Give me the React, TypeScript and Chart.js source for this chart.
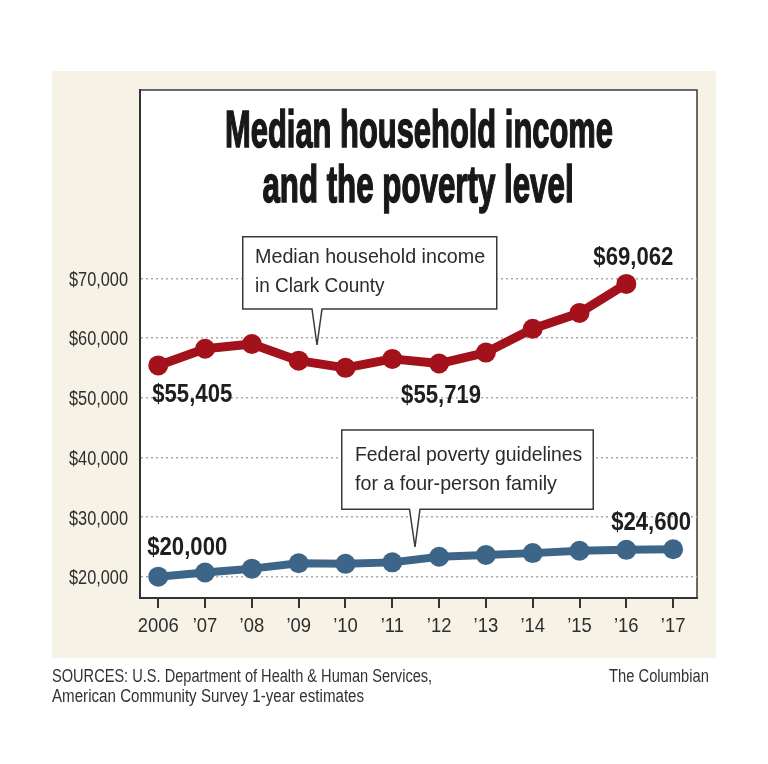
import React, { useEffect, useLayoutEffect, useRef, useState } from 'react';
import { Chart, registerables } from 'chart.js';

Chart.register(...registerables);

// ---------- data ----------
const years = [2006, 2007, 2008, 2009, 2010, 2011, 2012, 2013, 2014, 2015, 2016, 2017];
const yearLabels = ['2006', '’07', '’08', '’09', '’10', '’11', '’12', '’13', '’14', '’15', '’16', '’17'];
const medianIncome = [55405, 58200, 59000, 56200, 55000, 56500, 55719, 57550, 61550, 64200, 69062];
const povertyGuideline = [20000, 20700, 21350, 22250, 22150, 22400, 23350, 23650, 23950, 24350, 24500, 24600];
const yTickValues = [20000, 30000, 40000, 50000, 60000, 70000];
const labelledIncome = [0, 6, 10];
const labelledPoverty = [0, 11];

const titleLines = ['Median household income', 'and the poverty level'];
const incomeCallout = ['Median household income', 'in Clark County'];
const povertyCallout = ['Federal poverty guidelines', 'for a four-person family'];
const sourceLines = ['SOURCES: U.S. Department of Health & Human Services,', 'American Community Survey 1-year estimates'];
const credit = 'The Columbian';

// ---------- styles ----------
const RED = '#a3111b';
const BLUE = '#3d6587';
const BEIGE = '#f6f3e6';
const INK = '#2b2b2b';
const FONT = '"Liberation Sans Narrow", "Liberation Sans", Arial, sans-serif';

const fmt = (v: number) => '$' + v.toLocaleString('en-US');
const yearLabel = (v: number) => yearLabels[years.indexOf(v)] ?? '';

// label placement relative to the point (layout only)
const incomeLabelPlace: Record<number, { dx: number; dy: number; align: CanvasTextAlign }> = {
  0: { dx: -6, dy: 37, align: 'left' },
  6: { dx: 2, dy: 39, align: 'center' },
  10: { dx: 7, dy: -19, align: 'center' },
};
const povertyLabelPlace: Record<number, { dx: number; dy: number; align: CanvasTextAlign }> = {
  0: { dx: -11, dy: -22, align: 'left' },
  11: { dx: 18, dy: -19, align: 'right' },
};

function FitLine(props: {
  text: string; x: number; baseline: number; align: 'left' | 'center' | 'right';
  width: number; size: number; weight?: number; color?: string; stroke?: string;
}) {
  const { text, x, baseline, align, width, size, weight = 400, color = INK, stroke } = props;
  const ref = useRef<HTMLSpanElement>(null);
  const [sx, setSx] = useState(1);
  useLayoutEffect(() => {
    const measure = () => {
      const w = ref.current ? ref.current.offsetWidth : 0;
      if (w > 0) setSx(width / w);
    };
    measure();
    if ((document as any).fonts && (document as any).fonts.ready) {
      (document as any).fonts.ready.then(measure);
    }
  }, [text, width, size]);
  const W = 3000;
  const left = align === 'left' ? x : align === 'center' ? x - W / 2 : x - W;
  return (
    <div
      style={{
        position: 'absolute', left, top: baseline - 0.846 * size, width: W,
        textAlign: align, fontSize: size, lineHeight: size + 'px', fontFamily: FONT,
        fontWeight: weight, color, whiteSpace: 'nowrap',
        transform: `scaleX(${sx})`,
        transformOrigin: align === 'left' ? '0 0' : align === 'center' ? '50% 0' : '100% 0',
        WebkitTextStroke: stroke,
        pointerEvents: 'none',
      } as React.CSSProperties}
    >
      <span ref={ref}>{text}</span>
    </div>
  );
}

// draws text horizontally condensed by sx
function condensedText(ctx: CanvasRenderingContext2D, text: string, x: number, y: number, sx: number, align: CanvasTextAlign) {
  const w = ctx.measureText(text).width * sx;
  let left = x;
  if (align === 'center') left -= w / 2;
  else if (align === 'right') left -= w;
  ctx.save();
  ctx.translate(left, y);
  ctx.scale(sx, 1);
  ctx.textAlign = 'left';
  ctx.fillText(text, 0, 0);
  ctx.restore();
}

export default function App() {
  const canvasRef = useRef<HTMLCanvasElement>(null);

  useEffect(() => {
    const canvas = canvasRef.current!;
    const boxPlugin = {
      id: 'box',
      beforeDraw(chart: any) {
        const { ctx, chartArea: a } = chart;
        ctx.save();
        ctx.fillStyle = '#ffffff';
        ctx.fillRect(a.left, a.top, a.right - a.left, a.bottom - a.top);
        ctx.strokeStyle = '#3a3a3a';
        ctx.lineWidth = 1.5;
        ctx.beginPath();
        ctx.moveTo(a.left, a.top);
        ctx.lineTo(a.right, a.top);
        ctx.lineTo(a.right, a.bottom);
        ctx.stroke();
        ctx.restore();
      },
    };
    // axis tick labels, condensed, placed from the scales' own ticks
    const tickLabelPlugin = {
      id: 'tickLabels',
      afterDraw(chart: any) {
        const ctx = chart.ctx as CanvasRenderingContext2D;
        const xs = chart.scales.x;
        const ys = chart.scales.y;
        ctx.save();
        ctx.fillStyle = '#2e2e2e';
        ctx.textBaseline = 'alphabetic';
        ctx.font = `20px ${FONT}`;
        const syx = 59 / ctx.measureText('$70,000').width;
        ys.ticks.forEach((t: any) => {
          const y = ys.getPixelForValue(t.value);
          condensedText(ctx, fmt(t.value), ys.right - 12, y + 7.5, syx, 'right');
        });
        ctx.font = `21px ${FONT}`;
        const sxx = 41 / ctx.measureText('2006').width;
        xs.ticks.forEach((t: any) => {
          const x = xs.getPixelForValue(t.value);
          condensedText(ctx, yearLabel(t.value), x, xs.top + 34, sxx, 'center');
        });
        ctx.restore();
      },
    };
    const labelPlugin = {
      id: 'valueLabels',
      afterDatasetsDraw(chart: any) {
        const ctx = chart.ctx as CanvasRenderingContext2D;
        ctx.save();
        ctx.font = `bold 25px ${FONT}`;
        const sx = 80 / ctx.measureText('$55,405').width;
        ctx.fillStyle = '#1e1e1e';
        ctx.textBaseline = 'alphabetic';
        const draw = (dsIndex: number, idx: number, place: { dx: number; dy: number; align: CanvasTextAlign }) => {
          const el = chart.getDatasetMeta(dsIndex).data[idx];
          const value = chart.data.datasets[dsIndex].data[idx].y as number;
          condensedText(ctx, fmt(value), el.x + place.dx, el.y + place.dy, sx, place.align);
        };
        labelledIncome.forEach((i) => draw(0, i, incomeLabelPlace[i]));
        labelledPoverty.forEach((i) => draw(1, i, povertyLabelPlace[i]));
        ctx.restore();
      },
    };

    const chart = new Chart(canvas, {
      type: 'line',
      data: {
        datasets: [
          {
            label: 'Median household income in Clark County',
            data: medianIncome.map((v, i) => ({ x: years[i], y: v })),
            borderColor: RED,
            backgroundColor: RED,
            pointBackgroundColor: RED,
            pointBorderColor: RED,
            borderWidth: 9,
            pointRadius: 10,
            pointBorderWidth: 0,
            tension: 0,
            borderJoinStyle: 'round',
            borderCapStyle: 'round',
          },
          {
            label: 'Federal poverty guidelines for a four-person family',
            data: povertyGuideline.map((v, i) => ({ x: years[i], y: v })),
            borderColor: BLUE,
            backgroundColor: BLUE,
            pointBackgroundColor: BLUE,
            pointBorderColor: BLUE,
            borderWidth: 8,
            pointRadius: 10,
            pointBorderWidth: 0,
            tension: 0,
            borderJoinStyle: 'round',
            borderCapStyle: 'round',
          },
        ],
      },
      options: {
        responsive: false,
        animation: false,
        devicePixelRatio: 1,
        layout: { padding: { left: 52, right: 71, top: 90, bottom: 116 } },
        plugins: {
          legend: { display: false },
          tooltip: { enabled: false },
          title: { display: false },
        },
        scales: {
          x: {
            type: 'linear',
            min: 2005.61,
            max: 2017.51,
            afterBuildTicks: (s: any) => { s.ticks = years.map((v) => ({ value: v })); },
            afterFit: (s: any) => { s.height = 50; },
            grid: { drawOnChartArea: false, drawTicks: true, tickLength: 10, color: '#333', lineWidth: 2 },
            border: { display: true, color: '#333', width: 2 },
            ticks: { display: false, autoSkip: false, callback: (v: any) => yearLabel(Number(v)) },
          },
          y: {
            type: 'linear',
            min: 16430,
            max: 101557,
            afterBuildTicks: (s: any) => { s.ticks = yTickValues.map((v) => ({ value: v })); },
            afterFit: (s: any) => { s.width = 88; },
            grid: { drawTicks: false, color: '#a9a9a9', lineWidth: 1.5 },
            border: { display: true, color: '#333', width: 2, dash: [2, 3] },
            ticks: { display: false, callback: (v: any) => fmt(Number(v)) },
          },
        },
      } as any,
      plugins: [boxPlugin, labelPlugin, tickLabelPlugin],
    });
    return () => chart.destroy();
  }, []);

  return (
    <div style={{ position: 'absolute', left: 0, top: 0, width: 768, height: 764, background: '#fff', overflow: 'hidden' }}>
      <div style={{ position: 'absolute', left: 52, top: 71, width: 664, height: 587, background: BEIGE }} />
      <canvas ref={canvasRef} width={768} height={764} style={{ position: 'absolute', left: 0, top: 0, display: 'block' }} />
      <svg width={768} height={764} style={{ position: 'absolute', left: 0, top: 0, pointerEvents: 'none' }}>
        <path d="M242.75 236.75 H496.75 V309 H322 L317 345 L312 309 H242.75 Z" fill="#fff" stroke="#3a3a3a" strokeWidth={1.5} />
        <path d="M341.75 430 H593.25 V509.25 H420 L415 547 L409.5 509.25 H341.75 Z" fill="#fff" stroke="#3a3a3a" strokeWidth={1.5} />
      </svg>
      <FitLine text={titleLines[0]} x={419} baseline={147} align="center" width={388} size={52} weight={700} color="#181818" stroke="1.6px #181818" />
      <FitLine text={titleLines[1]} x={417.5} baseline={202} align="center" width={311} size={52} weight={700} color="#181818" stroke="1.6px #181818" />
      <FitLine text={incomeCallout[0]} x={255} baseline={263} align="left" width={230} size={21} />
      <FitLine text={incomeCallout[1]} x={255} baseline={292} align="left" width={130} size={21} />
      <FitLine text={povertyCallout[0]} x={355} baseline={461} align="left" width={227} size={21} />
      <FitLine text={povertyCallout[1]} x={355} baseline={490} align="left" width={202} size={21} />
      <FitLine text={sourceLines[0]} x={52} baseline={682} align="left" width={380} size={18} color="#333" />
      <FitLine text={sourceLines[1]} x={52} baseline={702} align="left" width={312} size={18} color="#333" />
      <FitLine text={credit} x={709} baseline={682} align="right" width={100} size={18} color="#333" />
    </div>
  );
}
